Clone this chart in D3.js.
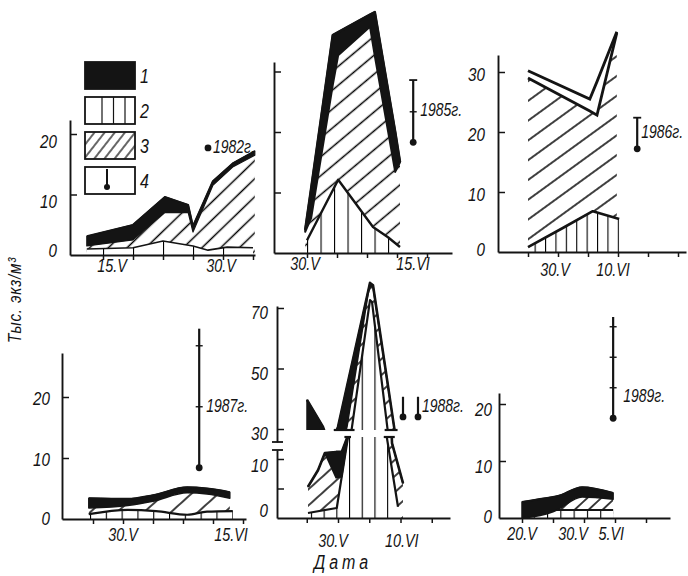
<!DOCTYPE html>
<html lang="ru">
<head>
<meta charset="utf-8">
<title>Плотность по датам, 1982–1989</title>
<script src="https://cdn.jsdelivr.net/npm/d3@7/dist/d3.min.js"></script>
<style>
  html, body { margin: 0; padding: 0; background: #fff; }
  svg { display: block; }
  text { font-family: "Liberation Sans", "DejaVu Sans", sans-serif; font-style: italic; fill: #141414; }
</style>
</head>
<body>
<script>
// Day numbers count from 1 May: 20 = 20.V, 30 = 30.V, 36 = 5.VI, 41 = 10.VI, 46 = 15.VI.
// For every year: upper edge of the black band (groups 1+2+3), of the hatched band (2+3)
// and of the ruled band (2), thousand individuals per m².

// 1982
const days1982   = [7.3, 15, 20.3, 24.2, 25, 28.3, 31.7, 35.3];
const total1982  = [3.1, 5.0, 9.6, 8.3, 4.8, 12.2, 15.2, 17.2];
const hatch1982  = [1.5, 2.5, 7.0, 7.0, 3.8, 11.5, 14.6, 16.5];
const s2Days1982 = [7.3, 15, 20, 25, 27.5, 30.7, 35];
const s2_1982    = [1.0, 1.2, 2.3, 1.5, 0.8, 1.3, 1.2];

// 1985
const days1985   = [29.7, 30.7, 34.3, 35.2, 40.5, 41.3, 44.7, 45.5];
const total1985  = [3.8, 10.7, 36.0, 36.5, 39.4, 39.8, 20.0, 15.0];
const hatch1985  = [3.5, 5.8, 27.8, 32.7, 37.4, 32.6, 13.4, 15.0];
const s2Days1985 = [30, 35.2, 41, 43.5, 45.5];
const s2_1985    = [2.1, 12.1, 4.3, 2.6, 1.0];

// 1986
const days1986   = [25, 35.3, 36.5, 39.8];
const total1986  = [30.2, 25.5, 28.4, 36.7];
const hatch1986  = [29.0, 23.5, 22.8, 36.5];
const s2Days1986 = [25, 30.8, 35.8, 40.2];
const s2_1986    = [0.8, 4.0, 6.8, 5.5];

// 1987
const days1987   = [24.3, 30.8, 35, 40.7, 44, 47.8];
const total1987  = [3.4, 3.3, 3.9, 5.2, 5.0, 4.4];
const hatch1987  = [1.8, 2.2, 2.9, 4.3, 4.1, 3.4];
const s2Days1987 = [24.3, 30.8, 35.5, 40.7, 44, 48.3];
const s2_1987    = [0.8, 1.5, 1.3, 0.7, 1.2, 1.3];

// 1988, broken axis: lower part (0–13) and upper part (from 30)
const daysLow1988   = [25.2, 26.8, 27.9, 29.7, 30.6, 31.6, 35.1, 38.0, 38.64, 40.4];
const totalLow1988  = [5.3, 8.1, 11.0, 11.2, 11.2, 14.0, 78.3, 30, 12.7, 5.9];
const hatchLow1988  = [5.3, 8.1, 11.0, 6.8, 7.0, 14.0, 78.3, 30, 12.7, 5.9];
const s2DaysLow1988 = [25.2, 29.8, 31.6, 35.1, 37.7, 39.6];
const s2Low1988     = [0.85, 1.7, 13.7, 72.6, 14.4, 1.9];
const daysUp1988    = [25.04, 27.6, 28.7, 30.0, 31.44, 34.8, 35.12, 35.6, 39.12];
const totalUp1988   = [39.6, 30.7, 24, 30.7, 44.1, 75.3, 78.3, 77.5, 28.7];
const hatchUp1988   = [0, 0, 0, 20, 30.7, 74.5, 77.0, 77.0, 28.7];
const s2DaysUp1988  = [31.76, 32.24, 35.12, 35.44, 38.0];
const s2Up1988      = [24, 30.7, 72.6, 72.0, 28.7];

// 1989
const days1989   = [20, 25, 25.6, 29.7, 34.7];
const total1989  = [2.8, 3.7, 3.8, 5.4, 4.4];
const hatch1989  = [0, 1.1, 1.4, 3.7, 3.3];
const s2Days1989 = [21.8, 25.6, 34.7];
const s2_1989    = [0.5, 1.4, 1.4];

// Axis ticks and labels
const xTicks1982 = [10, 15, 20, 25, 30, 35];
const xTicks1985 = [30, 35, 40, 45, 50];
const xTicks1986 = [25, 30, 35, 40, 45, 50];
const xTicks1987 = [25, 30, 35, 40, 45, 50];
const xTicks1988 = [25, 30, 35, 40, 45];
const xTicks1989 = [20, 25, 30, 35, 40];
const xLabDays1982 = [15, 30], xLabText1982 = ["15.V", "30.V"];
const xLabDays1985 = [30, 46], xLabText1985 = ["30.V", "15.VI"];
const xLabDays1986 = [30, 41], xLabText1986 = ["30.V", "10.VI"];
const xLabDays1987 = [30, 46], xLabText1987 = ["30.V", "15.VI"];
const xLabDays1988 = [30, 41], xLabText1988 = ["30.V", "10.VI"];
const xLabDays1989 = [20, 30, 36], xLabText1989 = ["20.V", "30.V", "5.VI"];

// Group 4: temperature bar (°C) standing on a level of the panel, ticks in °C
const years = ["1982г.", "1985г.", "1986г.", "1987г.", "1988г.", "1989г."];
const thermo1982 = [{ day: 27.5, base: 17.7, len: 0, ticks: [], cap: false }];
const thermo1985 = [{ day: 47.7, base: 18.3, len: 10.2, ticks: [5], cap: true }];
const thermo1986 = [{ day: 43.2, base: 17.2, len: 5.1, ticks: [], cap: true }];
const thermo1987 = [{ day: 42.7, base: 8.4, len: 22.8, ticks: [10, 20], cap: false }];
const thermo1988 = [{ day: 40.4, base: 34.0, len: 3.3, ticks: [], cap: false },
                    { day: 42.8, base: 34.0, len: 3.3, ticks: [], cap: false }];
const thermo1989 = [{ day: 34.7, base: 17.5, len: 16.6, ticks: [5, 10, 15], cap: false }];

const legendKeys = ["1", "2", "3", "4"];

// ---------------------------------------------------------------------------
const INK = "#141414";
const NARROW = 0.8;          // horizontal squeeze of the lettering
const W = 688, H = 576;
const svg = d3.select("body").append("svg").attr("width", W).attr("height", H);
svg.append("rect").attr("width", W).attr("height", H).attr("fill", "#fff");
const defs = svg.append("defs");

// narrow italic lettering placed at (x, y)
function label(g, x, y, str, size, anchor = "start", rotate = 0) {
  return g.append("text")
    .attr("transform", `translate(${x},${y}) rotate(${rotate}) scale(${NARROW},1)`)
    .attr("text-anchor", anchor).attr("font-size", size).text(str);
}

const tempScale = d3.scaleLinear().domain([0, 1]).range([0, 6.1]);
// scale from an anchor value/pixel, pixels per unit and pixel extent
const lin = (v0, p0, k, a, b) =>
  d3.scaleLinear().domain([v0 + (a - p0) / k, v0 + (b - p0) / k]).range([a, b]);

function diagPattern(id, spacing, angle, w = 1.5) {
  const p = defs.append("pattern").attr("id", id).attr("patternUnits", "userSpaceOnUse")
    .attr("width", 20).attr("height", spacing).attr("patternTransform", `rotate(${-angle})`);
  p.append("rect").attr("width", 20).attr("height", spacing).attr("fill", "#fff");
  p.append("line").attr("x1", 0).attr("x2", 20).attr("y1", spacing / 2).attr("y2", spacing / 2)
    .attr("stroke", "#000").attr("stroke-width", w);
}
function vertPattern(id, spacing, offset) {
  const p = defs.append("pattern").attr("id", id).attr("patternUnits", "userSpaceOnUse")
    .attr("width", spacing).attr("height", 10).attr("patternTransform", `translate(${offset},0)`);
  p.append("rect").attr("width", spacing).attr("height", 10).attr("fill", "#fff");
  p.append("line").attr("x1", 0.5).attr("x2", 0.5).attr("y1", 0).attr("y2", 10)
    .attr("stroke", "#000").attr("stroke-width", 1.2);
}
diagPattern("dg1", 13, 44); diagPattern("dg2", 14.5, 40); diagPattern("dg3", 16, 36);
diagPattern("dg4", 18, 42); diagPattern("dg5", 12, 42); diagPattern("dg6", 9.5, 43);
diagPattern("dgL", 8, 52, 1.2);
vertPattern("vt1", 30, 13); vertPattern("vt2", 13.5, 10); vertPattern("vt3", 10.4, 4.2);
vertPattern("vt4", 15.8, 11); vertPattern("vt5", 12.7, 6.1); vertPattern("vt6", 13.3, 1.7);

function drawSection(g, x, y, D, st, clipId) {
  const s = clipId ? g.append("g").attr("clip-path", `url(#${clipId})`) : g;
  const curve = st.smooth ? d3.curveMonotoneX : d3.curveLinear;
  const band = D.days.map((d, i) => ({ d, lo: D.hatch[i], hi: D.total[i] }));
  const s2 = D.s2days.map((d, i) => ({ d, v: D.s2[i] }));
  const base = y(0);
  s.append("path")
    .attr("d", d3.area().curve(curve).x(r => x(r.d)).y0(base).y1(r => y(r.lo))(band))
    .attr("fill", `url(#${st.diag})`);
  s.append("path")
    .attr("d", d3.area().curve(curve).x(r => x(r.d)).y0(base).y1(r => y(r.v))(s2))
    .attr("fill", `url(#${st.vert})`);
  s.append("path")
    .attr("d", d3.line().curve(curve).x(r => x(r.d)).y(r => y(r.v))(s2))
    .attr("fill", "none").attr("stroke", INK).attr("stroke-width", st.s2w).attr("stroke-linejoin", "round");
  const bandArea = d3.area().curve(curve).x(r => x(r.d)).y0(r => y(r.lo)).y1(r => y(r.hi));
  if (st.open) {
    s.append("path").attr("d", bandArea(band)).attr("fill", "#fff");
    ["hi", "lo"].forEach(k =>
      s.append("path").attr("d", d3.line().x(r => x(r.d)).y(r => y(r[k]))(band))
        .attr("fill", "none").attr("stroke", INK).attr("stroke-width", st.topW));
  } else {
    s.append("path").attr("d", bandArea(band))
      .attr("fill", INK).attr("stroke", INK).attr("stroke-width", st.bandW).attr("stroke-linejoin", "round");
    s.append("path").attr("d", d3.line().curve(curve).x(r => x(r.d)).y(r => y(r.hi))(band))
      .attr("fill", "none").attr("stroke", INK).attr("stroke-width", st.topW).attr("stroke-linejoin", "round");
  }
}

function styleAxis(sel) {
  sel.select(".domain").attr("stroke", INK).attr("stroke-width", 1.9);
  sel.selectAll(".tick line").attr("stroke", INK).attr("stroke-width", 1.5);
}

function drawXAxis(g, P) {
  const ax = g.append("g").attr("transform", `translate(0,${P.yBase})`)
    .call(d3.axisBottom(P.x).tickValues(P.xTicks).tickSize(5).tickSizeOuter(0).tickFormat(""));
  styleAxis(ax);
  P.xLabDays.forEach((d, i) => label(g, P.x(d) + P.xLabDx[i], P.xLabY, P.xLabText[i], 18, "middle"));
}

function drawYAxis(g, x0, y, ticks) {
  const ax = g.append("g").attr("transform", `translate(${x0},0)`)
    .call(d3.axisRight(y).tickValues(ticks).tickSize(7).tickSizeOuter(0).tickFormat(""));
  styleAxis(ax);
}

function yLabels(g, x0, y, vals, gap, dy, zeroY) {
  vals.forEach(v => label(g, x0 - gap, (v === 0 ? zeroY : y(v) + dy) + 6.5, v, 19, "end"));
}

function drawThermo(g, x, y, T) {
  T.forEach(t => {
    const cx = x(t.day), by = y(t.base), ty = by - tempScale(t.len);
    if (t.len > 0) {
      g.append("line").attr("x1", cx).attr("x2", cx).attr("y1", by).attr("y2", ty)
        .attr("stroke", INK).attr("stroke-width", 2.2);
    }
    t.ticks.forEach(k => g.append("line").attr("x1", cx - 3.5).attr("x2", cx + 3.5)
      .attr("y1", by - tempScale(k)).attr("y2", by - tempScale(k)).attr("stroke", INK).attr("stroke-width", 1.4));
    if (t.cap) g.append("line").attr("x1", cx - 4).attr("x2", cx + 4).attr("y1", ty).attr("y2", ty)
      .attr("stroke", INK).attr("stroke-width", 1.8);
    g.append("circle").attr("cx", cx).attr("cy", by).attr("r", 3.4).attr("fill", INK);
  });
}

function yearLabel(g, x, y, T, text, dx, dy) {
  const t = T[T.length - 1];
  label(g, x(t.day) + dx, y(t.base) + dy, text, 17.5);
}

// ---------------------------------------------------------------------------
const panels = [
  { data: { days: days1982, total: total1982, hatch: hatch1982, s2days: s2Days1982, s2: s2_1982 },
    x: lin(30, 223, 6, 70, 255), y: lin(0, 255, -6.05, 255, 120),
    xTicks: xTicks1982, yTicks: [10, 20], yLab: [0, 10, 20], gap: 13, ldy: 7, zeroDy: -5,
    xLabDays: xLabDays1982, xLabText: xLabText1982, xLabDx: [-21, -2], xLabY: 272,
    thermo: thermo1982, year: years[0], ydx: 5, ydy: 5,
    st: { diag: "dg1", vert: "vt1", s2w: 1.6, bandW: 1.2, topW: 1.8 } },
  { data: { days: days1985, total: total1985, hatch: hatch1985, s2days: s2Days1985, s2: s2_1985 },
    x: lin(30, 307, 6, 274, 452), y: lin(0, 253, -6.05, 253, 62),
    xTicks: xTicks1985, yTicks: [10, 20, 30], yLab: [], gap: 13, ldy: 0, zeroDy: 0,
    xLabDays: xLabDays1985, xLabText: xLabText1985, xLabDx: [-2, 10], xLabY: 270,
    thermo: thermo1985, year: years[1], ydx: 7, ydy: -26,
    st: { diag: "dg2", vert: "vt2", s2w: 2.4, bandW: 2, topW: 2.6 } },
  { data: { days: days1986, total: total1986, hatch: hatch1986, s2days: s2Days1986, s2: s2_1986 },
    x: lin(30, 558, 6, 498, 686), y: lin(0, 252, -6.0, 252, 55),
    xTicks: xTicks1986, yTicks: [10, 20, 30], yLab: [0, 10, 20, 30], gap: 13, ldy: 2, zeroDy: -3,
    xLabDays: xLabDays1986, xLabText: xLabText1986, xLabDx: [-3, -11], xLabY: 276,
    thermo: thermo1986, year: years[2], ydx: 4, ydy: -11,
    st: { diag: "dg3", vert: "vt3", s2w: 2.6, bandW: 1, topW: 2.8, open: true } },
  { data: { days: days1987, total: total1987, hatch: hatch1987, s2days: s2Days1987, s2: s2_1987 },
    x: lin(30, 123, 6, 62, 246), y: lin(0, 519, -6.1, 519, 353),
    xTicks: xTicks1987, yTicks: [10, 20], yLab: [0, 10, 20], gap: 12, ldy: 1, zeroDy: -1,
    xLabDays: xLabDays1987, xLabText: xLabText1987, xLabDx: [0, 12], xLabY: 541,
    thermo: thermo1987, year: years[3], ydx: 7, ydy: -56,
    st: { diag: "dg4", vert: "vt4", s2w: 2.2, bandW: 1.5, topW: 2, smooth: true } },
  { data: { days: days1989, total: total1989, hatch: hatch1989, s2days: s2Days1989, s2: s2_1989 },
    x: lin(20, 522, 6.2, 499, 670), y: lin(0, 518, -5.7, 518, 393),
    xTicks: xTicks1989, yTicks: [10, 20], yLab: [0, 10, 20], gap: 7, ldy: 5, zeroDy: -2,
    xLabDays: xLabDays1989, xLabText: xLabText1989, xLabDx: [0, -11, -10], xLabY: 540,
    thermo: thermo1989, year: years[5], ydx: 10, ydy: -16,
    st: { diag: "dg6", vert: "vt6", s2w: 2.2, bandW: 1.5, topW: 2, smooth: true } }
];

panels.forEach(P => {
  const g = svg.append("g");
  P.yBase = P.y.range()[0];
  drawSection(g, P.x, P.y, P.data, P.st);
  drawXAxis(g, P);
  drawYAxis(g, P.x.range()[0], P.y, P.yTicks);
  yLabels(g, P.x.range()[0], P.y, P.yLab, P.gap, P.ldy, P.yBase + P.zeroDy);
  drawThermo(g, P.x, P.y, P.thermo);
  yearLabel(g, P.x, P.y, P.thermo, P.year, P.ydx, P.ydy);
});

// ---- 1988: broken y axis ----
{
  const g = svg.append("g");
  const x = lin(30, 338, 6.25, 277, 450);
  const yLow = lin(0, 518, -5.9, 518, 450);
  const yUp = lin(30, 429, -3.025, 442, 306);
  const upClip = 430, lowClip = 437;
  defs.append("clipPath").attr("id", "clipUp").append("rect")
    .attr("x", 278).attr("y", 0).attr("width", 200).attr("height", upClip);
  defs.append("clipPath").attr("id", "clipLow").append("rect")
    .attr("x", 278).attr("y", lowClip).attr("width", 200).attr("height", 518 - lowClip);
  const st = { diag: "dg5", vert: "vt5", s2w: 2.2, bandW: 1.5, topW: 2.6 };
  drawSection(g, x, yLow, { days: daysLow1988, total: totalLow1988, hatch: hatchLow1988,
    s2days: s2DaysLow1988, s2: s2Low1988 }, st, "clipLow");
  drawSection(g, x, yUp, { days: daysUp1988, total: totalUp1988, hatch: hatchUp1988,
    s2days: s2DaysUp1988, s2: s2Up1988 }, st, "clipUp");

  // break marks where the rising and falling edges are cut
  const crossings = (days, vals, v) => {
    const out = [];
    for (let i = 0; i < days.length - 1; i++) {
      if ((vals[i] - v) * (vals[i + 1] - v) < 0)
        out.push(days[i] + (v - vals[i]) / (vals[i + 1] - vals[i]) * (days[i + 1] - days[i]));
    }
    return out;
  };
  const peak = 35.12;
  const marks = (series, yScale, py) => {
    const v = yScale.invert(py);
    const all = series.map(([d, s]) => crossings(d, s, v));
    const left = all.map(c => d3.max(c.filter(t => t < peak))).filter(t => t !== undefined);
    const right = all.map(c => d3.min(c.filter(t => t > peak))).filter(t => t !== undefined);
    [left, right].forEach(side => {
      if (!side.length) return;
      g.append("line").attr("x1", x(d3.min(side)) - 3).attr("x2", x(d3.max(side)) + 3)
        .attr("y1", py).attr("y2", py).attr("stroke", INK).attr("stroke-width", 2.2);
    });
  };
  marks([[daysUp1988, totalUp1988], [s2DaysUp1988, s2Up1988]], yUp, upClip);
  marks([[daysLow1988, totalLow1988], [s2DaysLow1988, s2Low1988]], yLow, lowClip);

  const P = { x, yBase: 518, xTicks: xTicks1988, xLabDays: xLabDays1988, xLabText: xLabText1988,
    xLabDx: [-5, -5], xLabY: 547 };
  drawXAxis(g, P);
  drawYAxis(g, 277, yUp, [30, 50, 70]);
  drawYAxis(g, 277, yLow, [5, 10]);
  [442, 450].forEach(py => g.append("line").attr("x1", 272).attr("x2", 283)
    .attr("y1", py).attr("y2", py).attr("stroke", INK).attr("stroke-width", 1.8));
  yLabels(g, 277, yUp, [30, 50, 70], 9, 4.5, 0);
  yLabels(g, 277, yLow, [0, 10], 9, 6, 510);
  drawThermo(g, x, yUp, thermo1988);
  yearLabel(g, x, yUp, thermo1988, years[4], 4, -5);
}

// ---- legend ----
{
  const g = svg.append("g");
  const fills = [INK, "#fff", "url(#dgL)", "#fff"];
  legendKeys.forEach((k, i) => {
    const y0 = 62 + i * 35;
    g.append("rect").attr("x", 85).attr("y", y0).attr("width", 50).attr("height", 27)
      .attr("fill", fills[i]).attr("stroke", INK).attr("stroke-width", 1.8);
    if (i === 1) {
      [17, 28.5, 40].forEach(dx => g.append("line").attr("x1", 85 + dx).attr("x2", 85 + dx)
        .attr("y1", y0).attr("y2", y0 + 27).attr("stroke", INK).attr("stroke-width", 1.2));
    }
    if (i === 3) {
      g.append("line").attr("x1", 107).attr("x2", 107).attr("y1", y0 + 2).attr("y2", y0 + 19)
        .attr("stroke", INK).attr("stroke-width", 2);
      g.append("circle").attr("cx", 107).attr("cy", y0 + 20).attr("r", 3).attr("fill", INK);
    }
    label(g, 140, y0 + 21, k, 20);
  });
}

// ---- axis titles ----
label(svg, 21, 300, "Тыс. экз/м³", 19, "middle", -90).attr("letter-spacing", 1);
label(svg, 343, 569, "Дата", 20, "middle").attr("letter-spacing", 5);
</script>
</body>
</html>
